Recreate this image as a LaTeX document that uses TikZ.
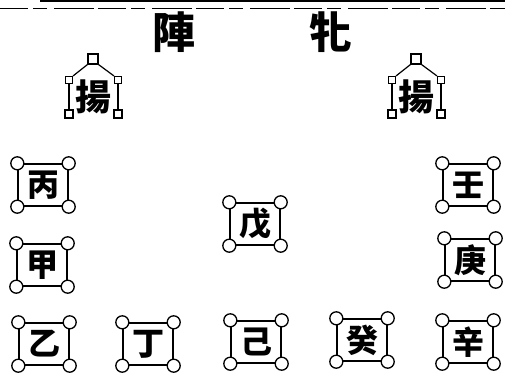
\documentclass[tikz,border=0pt]{standalone}
\usepackage{fontspec}
\newfontfamily\cjk{Noto Sans CJK TC}
\begin{document}
\begin{tikzpicture}[x=1pt,y=-1pt,
  stem/.style={draw, line width=1.4pt, minimum width=50pt, minimum height=42pt, inner sep=0pt,
    font=\cjk\bfseries\fontsize{32}{32}\selectfont},
  corner/.style={circle, draw, fill=white, line width=1.3pt, minimum size=13pt, inner sep=0pt},
  title/.style={font=\cjk\bfseries\fontsize{43}{43}\selectfont, inner sep=0pt},
  yang/.style={font=\cjk\bfseries\fontsize{36}{36}\selectfont, inner sep=0pt},
  topsq/.style={rectangle, draw, fill=white, line width=1.2pt, minimum size=10pt, inner sep=0pt},
  sidesq/.style={rectangle, draw, fill=white, line width=1.2pt, minimum size=7pt, inner sep=0pt},
  botsq/.style={rectangle, draw, fill=white, line width=1.2pt, minimum size=8pt, inner sep=0pt},
  link/.style={line width=1.2pt}]
\useasboundingbox (0,0) rectangle (505,374);
% top rules
\draw[line width=2pt] (40,1) -- (505,1);
\draw[line width=0.8pt, dash pattern=on 28pt off 5pt on 14pt off 7pt on 40pt off 4pt] (0,8) -- (505,8);
% title
\node[title] (zhen) at (174,32) {陣};
\node[title] (pin) at (331,32) {牝};
% macro for stem box
\newcommand\stembox[4]{%
  \node[stem] (#1) at (#2,#3) {#4};
  \node[corner] (#1nw) at (#1.north west) {};
  \node[corner] (#1ne) at (#1.north east) {};
  \node[corner] (#1sw) at (#1.south west) {};
  \node[corner] (#1se) at (#1.south east) {};}
\newcommand\yangnode[3]{%
  \node[yang] (#1) at (#2,#3+2) {揚};
  \node[topsq] (#1t) at (#2,#3-36) {};
  \node[sidesq] (#1l) at (#2-24,#3-15) {};
  \node[sidesq] (#1r) at (#2+25,#3-15) {};
  \node[botsq] (#1bl) at (#2-24,#3+19) {};
  \node[botsq] (#1br) at (#2+25,#3+19) {};
  \draw[link] (#1t.south west) -- (#1l.north east);
  \draw[link] (#1t.south east) -- (#1r.north west);
  \draw[link] (#1l.south) -- (#1bl.north);
  \draw[link] (#1r.south) -- (#1br.north);}
\yangnode{yangL}{93}{95}
\yangnode{yangR}{416}{95}
% stems
\stembox{bing}{43}{185}{丙}
\stembox{ren}{468}{185}{壬}
\stembox{jia}{42}{265}{甲}
\stembox{geng}{470}{260}{庚}
\stembox{wu}{255}{224}{戊}
\stembox{yi}{44}{344}{乙}
\stembox{ding}{148}{344}{丁}
\stembox{ji}{256}{342}{己}
\stembox{gui}{362}{340}{癸}
\stembox{xin}{468}{342}{辛}
\end{tikzpicture}
\end{document}
